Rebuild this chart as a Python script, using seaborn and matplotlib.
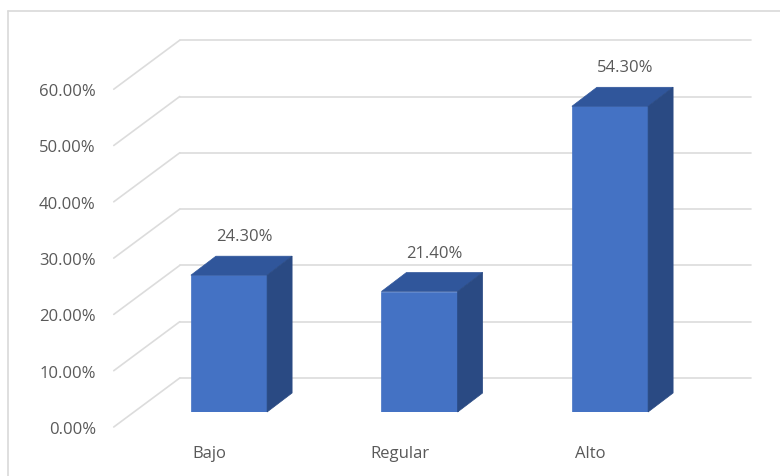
import matplotlib
matplotlib.use("Agg")
import matplotlib.pyplot as plt
import matplotlib.transforms as mtransforms
from matplotlib.patches import Polygon
from matplotlib.lines import Line2D
import seaborn as sns
import pandas as pd

categories = ["Bajo", "Regular", "Alto"]
values = [0.243, 0.214, 0.543]
value_labels = ["24.30%", "21.40%", "54.30%"]
yticks = [0.0, 0.1, 0.2, 0.3, 0.4, 0.5, 0.6]
ytick_labels = ["0.00%", "10.00%", "20.00%", "30.00%", "40.00%", "50.00%", "60.00%"]

sns.set_theme(style="white")
plt.rcParams["font.family"] = ["Open Sans", "DejaVu Sans"]

W, H, DPI = 780, 477, 100
fig = plt.figure(figsize=(W / DPI, H / DPI), dpi=DPI)

# axes = plane of bar front faces (pixel coordinates of the reference)
left_px, right_px = 133.75, 705.25
bottom_px, top_px = 413.0, 75.2
ax = fig.add_axes([left_px / W, 1 - bottom_px / H,
                   (right_px - left_px) / W, (bottom_px - top_px) / H])

df = pd.DataFrame({"cat": categories, "val": values})
sns.barplot(data=df, x="cat", y="val", ax=ax, color="#4472C4",
            saturation=1, width=0.4, zorder=3, edgecolor="#4472C4", linewidth=0.5)
ax.set_xlim(-0.5, 2.5)
ax.set_ylim(0, 0.6)

px_x = (right_px - left_px) / 3.0      # pixels per category unit
px_y = (bottom_px - top_px) / 0.6      # pixels per 1.0 value

# depth offsets (data units)
back_dx, back_dy = 46 / px_x, 34 / px_y        # bar plane -> back wall
front_dx, front_dy = -20 / px_x, -15 / px_y    # bar plane -> front edge
bar_dx, bar_dy = 25 / px_x, 19 / px_y          # bar depth

grid_color = "#dcdcdc"
for v in yticks:
    # back wall line
    ax.add_line(Line2D([-0.5 + back_dx, 2.5 + back_dx], [v + back_dy, v + back_dy],
                       color=grid_color, lw=1.2, zorder=1, clip_on=False))
    # left wall diagonal
    ax.add_line(Line2D([-0.5 + front_dx, -0.5 + back_dx], [v + front_dy, v + back_dy],
                       color=grid_color, lw=1.2, zorder=1, clip_on=False))

# 3D faces of the bars built from the bar patches
for patch, lab in zip(ax.patches, value_labels):
    x0 = patch.get_x()
    w = patch.get_width()
    h = patch.get_height()
    top = Polygon([(x0, h), (x0 + w, h), (x0 + w + bar_dx, h + bar_dy), (x0 + bar_dx, h + bar_dy)],
                  closed=True, facecolor="#30569B", edgecolor="#30569B", lw=0.5, zorder=4,
                  clip_on=False)
    side = Polygon([(x0 + w, 0), (x0 + w + bar_dx, bar_dy), (x0 + w + bar_dx, h + bar_dy), (x0 + w, h)],
                   closed=True, facecolor="#2A4A83", edgecolor="#2A4A83", lw=0.5, zorder=4,
                   clip_on=False)
    ax.add_patch(top)
    ax.add_patch(side)
    ax.annotate(lab, xy=(x0 + w / 2 + 0.6 * bar_dx, h + bar_dy), xytext=(0, 12 * 72 / DPI),
                textcoords="offset points", ha="center", va="bottom",
                fontsize=12, color="#595959", zorder=5, annotation_clip=False)

for s in ax.spines.values():
    s.set_visible(False)
ax.set_xlabel("")
ax.set_ylabel("")
ax.set_facecolor("none")

# ticks: labels placed on the front edge
ax.set_yticks(yticks)
ax.set_yticklabels(ytick_labels)
ax.tick_params(axis="y", length=0, pad=38 * 72 / DPI, labelsize=12, labelcolor="#595959")
ax.tick_params(axis="x", length=0, pad=33 * 72 / DPI, labelsize=12, labelcolor="#595959")
for t in ax.get_yticklabels():
    t.set_transform(t.get_transform() + mtransforms.ScaledTranslation(0, -15 / DPI, fig.dpi_scale_trans))
for t in ax.get_xticklabels():
    t.set_transform(t.get_transform() + mtransforms.ScaledTranslation(-20 / DPI, 0, fig.dpi_scale_trans))

# chart border (partially visible)
fig.add_artist(Line2D([8 / W, 8 / W], [0, 1 - 12 / H], color="#d9d9d9", lw=1.2))
fig.add_artist(Line2D([8 / W, 1], [1 - 12 / H, 1 - 12 / H], color="#d9d9d9", lw=1.2))

fig.savefig("out.png", dpi=DPI)
